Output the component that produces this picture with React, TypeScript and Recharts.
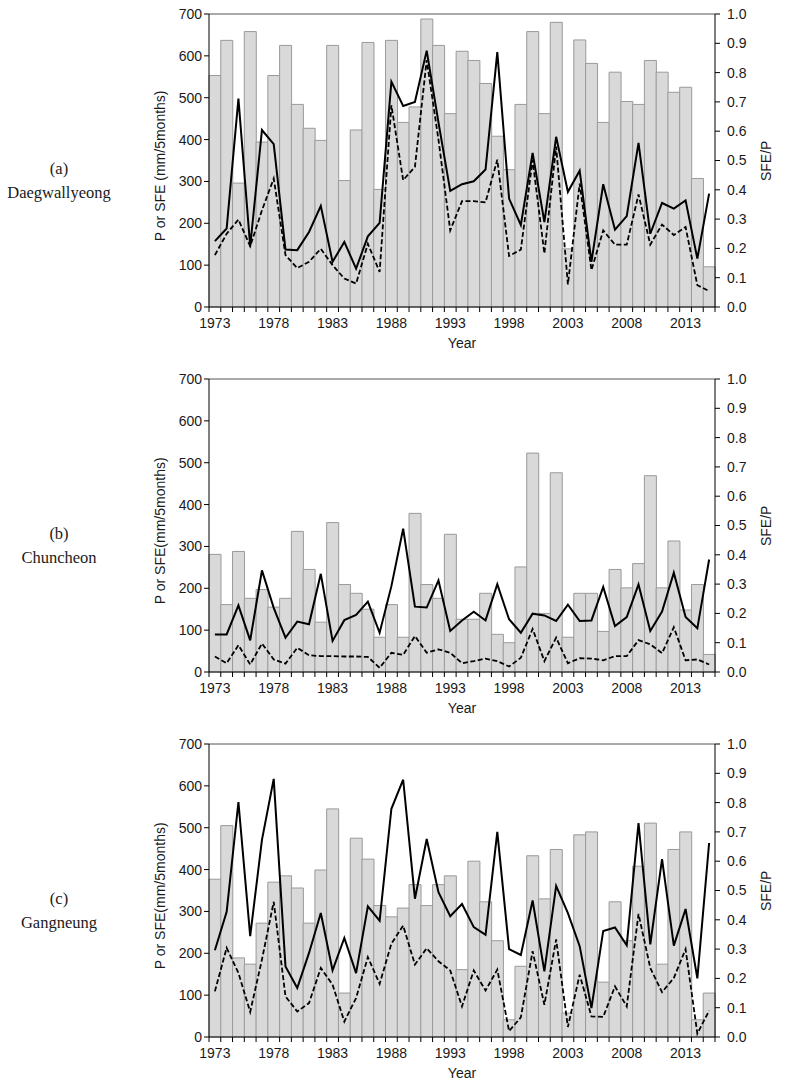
import { Bar, ComposedChart, Line, ReferenceLine, XAxis, YAxis } from 'recharts'

const years = [
  1973, 1974, 1975, 1976, 1977, 1978, 1979, 1980, 1981, 1982, 1983, 1984, 1985, 1986, 1987,
  1988, 1989, 1990, 1991, 1992, 1993, 1994, 1995, 1996, 1997, 1998, 1999, 2000, 2001, 2002,
  2003, 2004, 2005, 2006, 2007, 2008, 2009, 2010, 2011, 2012, 2013, 2014, 2015,
]
const yearLabels = [1973, 1978, 1983, 1988, 1993, 1998, 2003, 2008, 2013]
const leftTicks = [0, 100, 200, 300, 400, 500, 600, 700]
const rightTicks = [0, 0.1, 0.2, 0.3, 0.4, 0.5, 0.6, 0.7, 0.8, 0.9, 1.0]

// (a) Daegwallyeong
const daegwallyeongP = [
  553, 637, 296, 658, 394, 553, 625, 484, 427, 398, 625, 302, 423, 632, 281, 637, 441, 478, 688,
  625, 462, 611, 589, 534, 408, 328, 484, 658, 462, 680, 139, 638, 582, 441, 561, 491, 484, 589,
  561, 513, 525, 307, 96,
]
const daegwallyeongSfe = [
  124, 175, 209, 145, 231, 307, 124, 93, 108, 139, 100, 68, 56, 151, 84, 482, 303, 335, 590, 400,
  183, 253, 253, 250, 352, 122, 137, 351, 128, 383, 54, 295, 88, 183, 149, 149, 269, 149, 197,
  172, 191, 52, 38,
]
const daegwallyeongRatio = [
  0.225, 0.268, 0.711, 0.207, 0.604, 0.556, 0.196, 0.194, 0.256, 0.345, 0.154, 0.222, 0.131,
  0.241, 0.287, 0.769, 0.686, 0.7, 0.875, 0.63, 0.396, 0.419, 0.429, 0.469, 0.87, 0.37, 0.28,
  0.526, 0.29, 0.581, 0.393, 0.465, 0.154, 0.419, 0.264, 0.31, 0.56, 0.25, 0.355, 0.336, 0.364,
  0.165, 0.387,
]

// (b) Chuncheon
const chuncheonP = [
  281, 161, 288, 176, 197, 155, 176, 336, 245, 119, 357, 209, 188, 150, 83, 161, 83, 379, 209,
  176, 329, 126, 126, 188, 90, 70, 251, 523, 140, 476, 83, 188, 188, 97, 245, 201, 259, 469, 201,
  313, 148, 209, 42,
]
const chuncheonSfe = [
  37, 21, 64, 18, 68, 30, 20, 58, 40, 38, 38, 37, 37, 36, 10, 46, 41, 86, 46, 54, 46, 21, 26, 32,
  26, 13, 34, 103, 26, 82, 21, 33, 32, 28, 38, 38, 76, 66, 45, 107, 28, 30, 18,
]
const chuncheonRatio = [
  0.128, 0.128, 0.227, 0.108, 0.347, 0.219, 0.117, 0.172, 0.163, 0.335, 0.106, 0.177, 0.195,
  0.24, 0.134, 0.293, 0.489, 0.223, 0.22, 0.3125, 0.14, 0.176, 0.206, 0.176, 0.3, 0.18, 0.134,
  0.199, 0.193, 0.174, 0.23, 0.174, 0.176, 0.29, 0.157, 0.1875, 0.299, 0.14, 0.206, 0.339,
  0.1875, 0.149, 0.384,
]

// (c) Gangneung
const gangneungP = [
  377, 505, 189, 174, 272, 370, 385, 356, 272, 399, 545, 105, 475, 425, 314, 287, 308, 364, 314,
  364, 385, 161, 420, 323, 230, 41, 169, 433, 330, 448, 57, 483, 490, 131, 323, 230, 408, 511,
  174, 448, 490, 41, 105,
]
const gangneungSfe = [
  109, 213, 153, 60, 185, 323, 97, 61, 81, 165, 125, 37, 93, 191, 127, 223, 266, 173, 212, 181,
  159, 73, 159, 111, 161, 14, 47, 205, 77, 233, 24, 149, 49, 48, 121, 73, 294, 165, 107, 141,
  210, 8, 63,
]
const gangneungRatio = [
  0.296, 0.427, 0.802, 0.344, 0.673, 0.881, 0.241, 0.167, 0.287, 0.423, 0.2275, 0.338, 0.218,
  0.446, 0.397, 0.779, 0.878, 0.472, 0.676, 0.494, 0.412, 0.454, 0.375, 0.349, 0.7, 0.3, 0.28,
  0.466, 0.224, 0.516, 0.423, 0.31, 0.099, 0.362, 0.374, 0.313, 0.73, 0.316, 0.607, 0.312,
  0.437, 0.2, 0.662,
]

const PLOT_LEFT = 209
const PLOT_RIGHT = 715
const PLOT_HEIGHT = 293
const CHART_W = 786
const MARGIN_TOP = 10
const MARGIN_BOTTOM = 5
const X_AXIS_H = 40
const CHART_H = MARGIN_TOP + PLOT_HEIGHT + X_AXIS_H + MARGIN_BOTTOM
const LEFT_AXIS_W = 60
const RIGHT_AXIS_W = 50
const BAND = (PLOT_RIGHT - PLOT_LEFT) / years.length
const TEXT = '#1a1a1a'
const SERIF = '"Liberation Serif", "Times New Roman", serif'

const build = (p: number[], sfe: number[], ratio: number[]) =>
  years.map((year, i) => ({ year, p: p[i], sfe: sfe[i], ratio: ratio[i] }))

const panels = [
  {
    letter: '(a)',
    name: 'Daegwallyeong',
    title: 'P or SFE (mm/5months)',
    plotTop: 14.3,
    data: build(daegwallyeongP, daegwallyeongSfe, daegwallyeongRatio),
  },
  {
    letter: '(b)',
    name: 'Chuncheon',
    title: 'P or SFE(mm/5months)',
    plotTop: 379.3,
    data: build(chuncheonP, chuncheonSfe, chuncheonRatio),
  },
  {
    letter: '(c)',
    name: 'Gangneung',
    title: 'P or SFE(mm/5months)',
    plotTop: 744.3,
    data: build(gangneungP, gangneungSfe, gangneungRatio),
  },
]

function YearTick(props: any) {
  const { x, y, payload } = props
  const edge = x - BAND / 2
  const last = payload.value === years[years.length - 1]
  return (
    <g>
      <line x1={edge} x2={edge} y1={y} y2={y + 5} stroke="#000" />
      {last && <line x1={x + BAND / 2} x2={x + BAND / 2} y1={y} y2={y + 5} stroke="#000" />}
      {yearLabels.includes(payload.value) && (
        <text x={x} y={y + 21} textAnchor="middle" fill={TEXT} fontSize={14}>
          {payload.value}
        </text>
      )}
    </g>
  )
}

function Panel({ data, plotTop }: { data: ReturnType<typeof build>; plotTop: number }) {
  return (
    <div style={{ position: 'absolute', left: 0, top: plotTop - MARGIN_TOP }}>
      <ComposedChart
        width={CHART_W}
        height={CHART_H}
        data={data}
        barCategoryGap={0}
        barGap={0}
        margin={{
          top: MARGIN_TOP,
          bottom: MARGIN_BOTTOM,
          left: PLOT_LEFT - LEFT_AXIS_W,
          right: CHART_W - PLOT_RIGHT - RIGHT_AXIS_W,
        }}
      >
        <XAxis
          dataKey="year"
          interval={0}
          height={X_AXIS_H}
          tickLine={false}
          tickSize={0}
          tickMargin={0}
          axisLine={{ stroke: '#000' }}
          tick={(p: any) => <YearTick {...p} />}
          label={{ value: 'Year', position: 'insideBottom', offset: -1, fill: TEXT, fontSize: 14 }}
        />
        <YAxis
          yAxisId="left"
          domain={[0, 700]}
          ticks={leftTicks}
          interval={0}
          width={LEFT_AXIS_W}
          tickSize={5}
          tickMargin={2}
          axisLine={{ stroke: '#000' }}
          tickLine={{ stroke: '#000' }}
          tick={{ fill: TEXT, fontSize: 14 }}
        />
        <YAxis
          yAxisId="right"
          orientation="right"
          domain={[0, 1]}
          ticks={rightTicks}
          interval={0}
          width={RIGHT_AXIS_W}
          tickSize={5}
          tickMargin={7}
          tickFormatter={(v: number) => v.toFixed(1)}
          axisLine={{ stroke: '#000' }}
          tickLine={{ stroke: '#000' }}
          tick={{ fill: TEXT, fontSize: 14, textAnchor: 'start' }}
        />
        <ReferenceLine yAxisId="left" y={700} stroke="#555" />
        <Bar
          yAxisId="left"
          dataKey="p"
          fill="#d9d9d9"
          stroke="#9a9a9a"
          strokeWidth={1}
          isAnimationActive={false}
        />
        <Line
          yAxisId="left"
          dataKey="sfe"
          type="linear"
          stroke="#000"
          strokeWidth={1.8}
          strokeDasharray="5 2.5"
          dot={false}
          isAnimationActive={false}
        />
        <Line
          yAxisId="right"
          dataKey="ratio"
          type="linear"
          stroke="#000"
          strokeWidth={2}
          dot={false}
          isAnimationActive={false}
        />
      </ComposedChart>
    </div>
  )
}

export default function App() {
  return (
    <div
      style={{
        position: 'absolute',
        left: 0,
        top: 0,
        width: CHART_W,
        height: 1083,
        overflow: 'hidden',
        background: '#fff',
        fontFamily: '"Liberation Sans", Arial, sans-serif',
      }}
    >
      {panels.map((panel) => (
        <Panel key={panel.letter} data={panel.data} plotTop={panel.plotTop} />
      ))}
      <svg
        width={CHART_W}
        height={1083}
        style={{ position: 'absolute', left: 0, top: 0, pointerEvents: 'none' }}
      >
        {panels.map((panel) => {
          const mid = panel.plotTop + PLOT_HEIGHT / 2 + 5
          return (
            <g key={panel.letter}>
              <text
                x={59}
                y={panel.plotTop + 160}
                textAnchor="middle"
                fontFamily={SERIF}
                fontSize={16.5}
                fill={TEXT}
              >
                {panel.letter}
              </text>
              <text
                x={59}
                y={panel.plotTop + 184}
                textAnchor="middle"
                fontFamily={SERIF}
                fontSize={16.5}
                fill={TEXT}
              >
                {panel.name}
              </text>
              <text
                x={165}
                y={mid}
                transform={`rotate(-90 165 ${mid})`}
                textAnchor="middle"
                fontSize={14}
                fill={TEXT}
              >
                {panel.title}
              </text>
              <text
                x={771}
                y={mid - 5}
                transform={`rotate(-90 771 ${mid - 5})`}
                textAnchor="middle"
                fontSize={14}
                fill={TEXT}
              >
                SFE/P
              </text>
            </g>
          )
        })}
      </svg>
    </div>
  )
}
